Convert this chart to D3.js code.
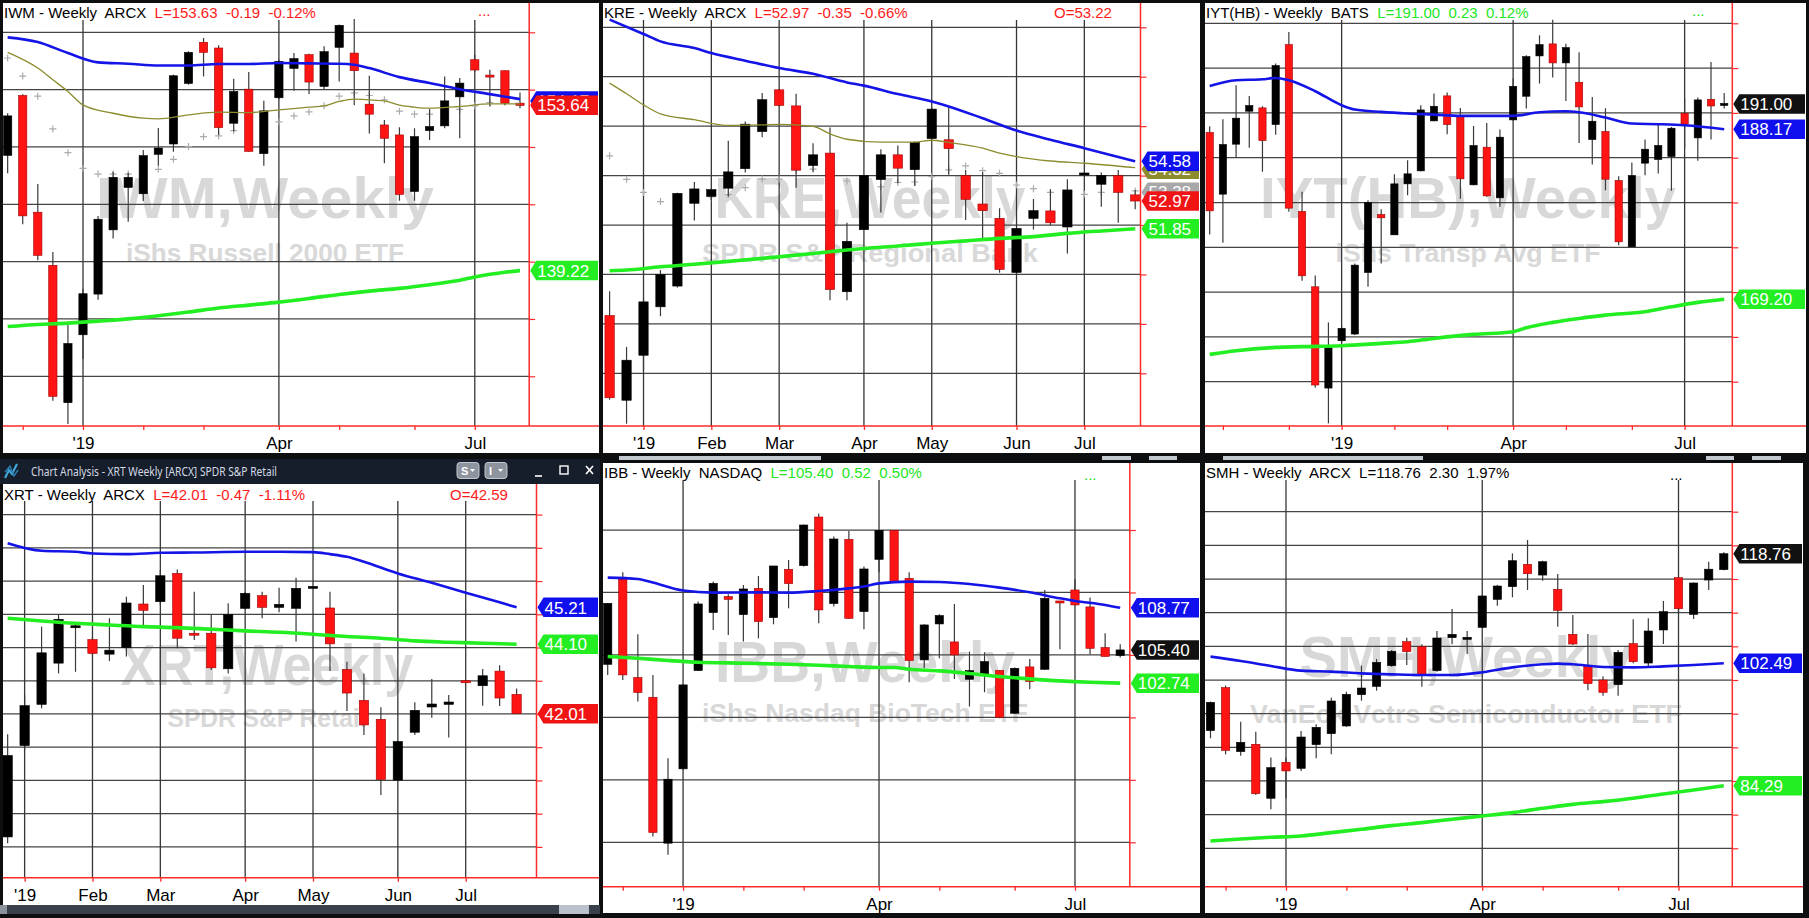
<!DOCTYPE html>
<html><head><meta charset="utf-8">
<script src="https://cdn.jsdelivr.net/npm/d3@7/dist/d3.min.js"></script>
<style>
body{margin:0;background:#0d0e10;}
svg{display:block;font-family:'Liberation Sans',Arial,sans-serif;}
</style></head>
<body><svg id="c" width="1809" height="918"></svg>
<script>
// ---------------- DATA (weekly OHLC: [open, high, low, close]) ----------------
const IWM_OHLC = [[149.27,152.94,147.70,152.71],[154.49,154.60,143.27,143.99],[144.31,146.76,140.12,140.55],[139.68,140.85,127.87,128.25],[127.70,134.72,125.83,132.86],[133.62,137.64,131.52,137.20],[137.17,143.97,136.68,143.70],[142.77,147.84,142.01,147.35],[146.47,147.76,143.47,147.35],[145.92,149.74,145.28,149.24],[149.36,151.66,148.37,149.91],[150.26,156.30,149.59,156.21],[155.54,158.34,155.42,158.25],[159.13,159.50,156.15,158.25],[158.63,158.86,151.05,151.69],[152.07,155.95,151.34,154.84],[155.04,156.53,149.59,149.62],[149.42,154.02,148.37,153.15],[154.29,157.61,154.17,157.46],[156.85,158.19,154.90,157.70],[158.05,158.13,154.61,155.66],[155.28,158.78,154.99,158.31],[158.69,160.67,155.71,160.61],[158.19,161.17,153.64,156.65],[153.73,156.21,151.17,152.86],[151.92,152.36,148.57,150.76],[151.05,151.72,145.31,145.86],[146.12,151.63,145.31,150.90],[151.43,153.32,150.61,151.78],[151.84,156.15,151.63,154.02],[154.37,156.01,150.76,155.57],[157.61,158.05,156.59,156.71],[156.21,156.73,153.53,156.15],[156.65,156.65,153.67,153.82],[153.82,154.75,153.38,153.63]];
const IWM_BLUE = [[0,159.56],[2,159.15],[4,158.19],[6,157.38],[8,157.26],[10,157.11],[12,157.11],[14,157.23],[16,157.23],[18,157.32],[20,157.29],[22,157.26],[23,157.17],[24,156.88],[26,156.09],[28,155.57],[30,155.04],[32,154.61],[34,154.17]];
const IWM_OLIVE = [[0,158.25],[2,156.88],[3,155.86],[4,154.84],[5,153.67],[7,152.94],[9,152.51],[10,152.45],[12,152.80],[14,153.03],[16,153.00],[18,153.24],[20,153.47],[21,153.59],[22,153.97],[23,154.17],[24,154.11],[25,154.02],[26,153.64],[27,153.47],[28,153.38],[30,153.53],[32,153.76],[34,153.76]];
const IWM_GREEN = [[0,134.34],[2,134.52],[4,134.64],[6,134.81],[8,135.01],[10,135.28],[12,135.60],[14,135.95],[16,136.21],[18,136.47],[20,136.79],[22,137.14],[24,137.43],[26,137.67],[28,137.99],[30,138.37],[31,138.66],[33,139.07],[34,139.22]];
const IWM_SAR = [157.76,156.18,154.43,151.57,149.50,148.13,147.64,147.64,147.64,147.76,148.05,148.92,150.03,150.90,150.96,151.43,151.25,151.37,152.19,152.71,153.06,153.59,154.43,154.72,154.49,154.11,153.12,152.86,152.86,153.00,153.27,153.59,153.88,153.91];
const IWM_MONTHS = [[1,''],[5,"'19"],[9,''],[13,''],[18,'Apr'],[22,''],[27,''],[31,'Jul']];

const KRE_OHLC = [[48.34,49.32,44.93,45.01],[44.91,47.07,43.96,46.53],[46.73,49.05,46.12,48.89],[48.69,50.18,48.31,49.99],[49.53,53.31,49.47,53.28],[52.88,53.74,52.18,53.46],[53.16,53.49,53.01,53.43],[53.49,55.41,53.15,54.15],[54.28,56.19,54.12,56.08],[55.78,57.34,55.55,57.07],[57.47,57.50,56.81,56.84],[56.82,57.31,53.51,54.22],[54.41,55.31,54.16,54.84],[54.91,55.95,48.96,49.39],[49.30,52.09,48.96,51.34],[51.81,54.02,51.80,54.00],[53.84,55.07,52.51,54.84],[54.84,55.22,53.69,54.30],[54.24,55.38,53.58,55.34],[55.50,56.73,55.47,56.69],[55.45,56.77,54.03,55.09],[54.00,54.23,52.20,53.04],[52.85,54.14,51.46,52.58],[52.27,52.68,50.07,50.20],[50.08,51.88,50.04,51.86],[52.27,53.05,51.82,52.58],[52.57,53.45,51.99,52.09],[51.92,53.85,50.85,53.42],[54.05,54.11,54.03,54.08],[53.65,54.12,52.74,54.00],[54.00,54.23,52.09,53.32],[53.22,53.42,52.64,52.97]];
const KRE_BLUE = [[0,60.31],[2,59.73],[3,59.43],[5,59.16],[6,58.96],[8,58.65],[10,58.35],[12,58.12],[14,57.77],[15,57.64],[17,57.30],[19,57.00],[20,56.80],[22,56.32],[24,55.82],[26,55.45],[28,55.11],[31,54.58]];
const KRE_OLIVE = [[0,57.74],[1,57.31],[2,56.86],[3,56.50],[5,56.26],[7,56.03],[9,56.05],[10,56.07],[12,55.99],[13,55.69],[14,55.47],[16,55.35],[18,55.35],[19,55.43],[20,55.34],[22,55.11],[23,54.91],[24,54.77],[26,54.59],[28,54.50],[31,54.32]];
const KRE_GREEN = [[0,50.15],[1,50.18],[3,50.31],[5,50.41],[7,50.53],[9,50.65],[11,50.78],[13,50.92],[15,51.05],[17,51.15],[19,51.26],[21,51.36],[23,51.46],[25,51.53],[27,51.66],[29,51.76],[31,51.85]];
const KRE_SAR = [54.80,53.85,53.32,52.95,52.99,53.04,53.14,53.23,53.51,53.86,53.86,54.23,54.26,54.26,53.78,53.50,53.54,53.72,53.74,53.96,54.23,54.39,54.20,54.09,53.62,53.47,53.32,53.22,53.24,53.32,53.45,53.38];
const KRE_MONTHS = [[2,"'19"],[6,'Feb'],[10,'Mar'],[15,'Apr'],[19,'May'],[24,'Jun'],[28,'Jul']];

const IYT_OHLC = [[187.81,188.51,176.43,179.07],[180.93,189.29,175.50,186.47],[186.51,193.09,185.02,189.41],[190.19,191.90,186.10,190.82],[190.56,190.74,183.42,186.91],[188.70,195.50,187.55,195.28],[197.62,199.03,178.96,179.37],[179.00,181.19,171.26,171.82],[170.59,171.86,159.33,159.63],[159.29,166.62,155.35,163.79],[164.57,166.21,164.39,165.95],[165.32,173.20,165.20,173.01],[172.19,180.26,170.59,180.00],[178.66,179.26,173.20,178.29],[176.39,183.16,176.36,182.08],[182.08,184.72,180.82,183.20],[183.53,190.86,183.49,190.33],[189.11,192.16,189.07,190.74],[191.90,192.27,187.62,188.70],[189.63,190.56,180.41,182.64],[181.97,188.55,181.93,186.36],[186.17,188.88,180.63,180.74],[180.52,188.14,179.52,187.29],[189.22,193.83,189.14,192.97],[191.86,196.43,190.48,196.28],[196.36,198.66,193.27,197.62],[197.70,200.41,193.94,195.58],[195.58,197.73,191.34,197.29],[193.42,196.77,186.65,190.67],[187.03,191.78,184.24,189.07],[187.92,190.52,181.38,182.60],[182.45,182.94,175.24,175.61],[175.06,184.46,175.02,183.01],[184.39,187.03,183.05,185.95],[184.80,188.81,183.23,186.36],[185.13,188.44,181.30,188.29],[189.96,191.60,186.02,188.74],[187.21,191.71,184.65,191.45],[191.52,195.69,187.03,190.77],[190.89,192.23,190.48,191.00]];
const IYT_BLUE = [[0,193.01],[2,193.64],[4,193.75],[5,193.90],[6,193.64],[8,192.42],[10,190.86],[11,190.37],[13,190.11],[15,189.93],[17,189.81],[19,189.67],[21,189.67],[23,189.67],[25,190.07],[27,190.19],[28,190.07],[30,189.48],[32,188.81],[34,188.74],[36,188.62],[39,188.17]];
const IYT_GREEN = [[0,163.05],[2,163.46],[5,163.83],[7,163.91],[10,164.02],[13,164.28],[15,164.46],[17,164.83],[20,165.28],[23,165.58],[24,166.02],[26,166.62],[28,167.06],[30,167.43],[33,167.81],[35,168.36],[37,168.85],[39,169.20]];
const IYT_MONTHS = [[1,''],[6,''],[10,"'19"],[14,''],[18,''],[23,'Apr'],[27,''],[32,''],[36,'Jul']];

const XRT_OHLC = [[38.30,41.39,38.11,40.75],[41.05,42.57,40.90,42.25],[42.29,44.63,42.17,43.84],[43.53,44.98,43.22,44.85],[44.60,44.73,43.27,44.65],[44.24,44.33,43.78,43.82],[43.80,44.88,43.59,43.92],[44.00,45.53,43.73,45.34],[45.31,45.88,44.68,45.12],[45.38,46.33,45.28,46.16],[46.23,46.35,43.98,44.28],[44.41,45.68,44.23,44.39],[44.43,44.98,43.32,43.39],[43.36,45.33,43.22,44.99],[45.18,45.68,45.16,45.63],[45.56,45.68,44.88,45.21],[45.21,45.80,45.06,45.30],[45.18,46.10,44.18,45.78],[45.80,45.82,45.80,45.82],[45.19,45.68,43.29,44.11],[43.34,43.57,42.09,42.63],[42.41,43.22,41.37,41.67],[41.84,42.20,39.56,40.03],[40.01,41.19,39.98,41.17],[41.45,42.35,41.37,42.11],[42.21,43.05,41.89,42.30],[42.29,42.57,41.29,42.36],[42.99,43.00,42.93,42.95],[42.85,43.35,42.25,43.15],[43.29,43.47,42.24,42.48],[42.59,42.77,42.00,42.01]];
const XRT_BLUE = [[0,47.14],[2,46.91],[4,46.88],[5,46.83],[7,46.81],[9,46.85],[11,46.86],[14,46.88],[16,46.88],[18,46.87],[19,46.81],[20,46.73],[21,46.58],[23,46.23],[25,45.95],[27,45.65],[29,45.36],[30,45.21]];
const XRT_GREEN = [[0,44.88],[2,44.80],[4,44.73],[6,44.68],[8,44.63],[10,44.60],[12,44.55],[14,44.50],[16,44.46],[18,44.40],[20,44.33],[22,44.28],[24,44.20],[26,44.16],[28,44.13],[30,44.10]];
const XRT_MONTHS = [[1,"'19"],[5,'Feb'],[9,'Mar'],[14,'Apr'],[18,'May'],[23,'Jun'],[27,'Jul']];

const IBB_OHLC = [[104.25,109.13,103.40,109.13],[111.08,111.61,103.00,103.40],[103.19,106.65,101.27,101.99],[101.61,103.40,90.47,90.79],[89.93,96.73,89.00,95.05],[95.88,102.65,95.80,102.60],[103.75,109.27,103.72,109.08],[108.39,110.87,107.00,110.73],[109.67,109.85,106.60,109.45],[108.23,110.60,106.07,110.28],[110.33,111.32,106.33,107.67],[107.99,112.12,107.45,112.12],[111.85,112.60,108.73,110.71],[112.15,115.45,112.07,115.40],[116.04,116.33,107.53,108.60],[109.11,114.47,108.87,114.28],[114.25,114.92,107.88,107.93],[108.47,112.07,107.05,111.88],[112.65,115.00,111.61,114.97],[114.97,115.00,110.81,110.87],[111.13,111.61,102.81,104.55],[104.60,107.45,103.93,107.40],[107.48,108.25,104.73,108.15],[106.04,109.08,103.08,105.00],[103.05,105.27,100.87,103.75],[103.45,105.21,102.01,104.47],[103.75,103.80,99.93,100.01],[100.33,103.99,100.28,103.93],[104.04,104.68,102.25,102.87],[103.85,110.20,103.80,109.53],[109.27,109.32,105.45,109.21],[110.20,111.05,108.95,109.00],[108.84,109.59,105.05,105.53],[105.59,106.73,104.87,104.88],[104.95,105.85,104.79,105.40]];
const IBB_BLUE = [[0,111.19],[2,111.08],[3,110.79],[5,110.15],[7,109.99],[10,110.01],[12,109.99],[14,110.12],[16,110.33],[17,110.47],[18,110.73],[20,110.87],[22,110.84],[24,110.68],[26,110.39],[28,110.01],[30,109.53],[31,109.32],[33,109.00],[34,108.77]];
const IBB_GREEN = [[0,104.87],[2,104.73],[4,104.55],[6,104.41],[8,104.36],[10,104.31],[12,104.25],[14,104.17],[16,104.07],[18,103.99],[19,103.99],[20,103.85],[22,103.72],[24,103.51],[26,103.27],[28,103.08],[30,102.92],[32,102.81],[34,102.74]];
const IBB_MONTHS = [[1,''],[5,"'19"],[9,''],[13,''],[18,'Apr'],[22,''],[27,''],[31,'Jul']];

const SMH_OHLC = [[92.48,96.78,91.34,96.68],[98.86,99.16,88.96,89.55],[89.36,93.81,88.76,90.74],[90.45,92.33,82.92,83.12],[82.43,88.47,80.79,86.98],[87.77,88.47,82.43,86.49],[86.88,92.43,86.49,91.53],[90.40,93.42,88.37,92.97],[92.03,97.38,88.96,96.88],[93.17,98.27,93.07,97.87],[97.82,102.13,96.93,98.81],[99.06,103.12,98.42,102.62],[102.13,104.46,101.98,104.26],[105.69,106.29,102.23,104.21],[104.95,105.30,99.01,100.84],[101.39,107.28,101.24,106.24],[106.29,110.54,105.30,106.78],[106.04,107.28,103.86,106.34],[107.82,112.62,107.77,112.48],[111.98,114.11,111.04,113.96],[113.86,118.81,112.28,117.72],[117.18,120.79,113.37,115.79],[115.59,117.72,114.75,117.57],[113.47,115.74,107.92,110.35],[106.78,109.65,105.20,105.35],[102.08,106.83,98.47,99.46],[100.00,100.54,97.67,98.17],[99.31,104.46,97.67,104.11],[105.40,109.01,102.48,102.72],[102.52,109.16,101.98,107.28],[107.43,111.73,105.35,110.15],[115.20,115.35,110.15,110.59],[109.75,114.50,109.06,114.41],[114.85,117.57,113.37,116.46],[116.39,118.96,116.29,118.76]];
const SMH_BLUE = [[0,103.47],[2,102.82],[4,102.08],[6,101.39],[8,101.24],[10,100.99],[12,100.84],[14,100.74],[16,100.74],[18,101.14],[20,101.88],[22,102.33],[23,102.43],[24,102.33],[26,101.93],[28,101.88],[30,102.03],[32,102.23],[34,102.49]];
const SMH_GREEN = [[0,76.09],[2,76.39],[4,76.63],[6,76.83],[8,77.33],[10,77.82],[12,78.37],[14,78.81],[16,79.31],[18,79.80],[20,80.30],[22,80.94],[24,81.53],[26,81.93],[28,82.43],[30,83.07],[32,83.66],[34,84.29]];
const SMH_MONTHS = [[1,''],[5,"'19"],[9,''],[13,''],[18,'Apr'],[22,''],[27,''],[31,'Jul']];

// header texts [text, colour-key]
const IWM_HEADER = [['IWM - Weekly  ARCX  ','k'],['L=153.63  -0.19  -0.12%','r']];
const KRE_HEADER = [['KRE - Weekly  ARCX  ','k'],['L=52.97  -0.35  -0.66%','r']];
const IYT_HEADER = [['IYT(HB) - Weekly  BATS  ','k'],['L=191.00  0.23  0.12%','g']];
const XRT_HEADER = [['XRT - Weekly  ARCX  ','k'],['L=42.01  -0.47  -1.11%','r']];
const IBB_HEADER = [['IBB - Weekly  NASDAQ  ','k'],['L=105.40  0.52  0.50%','g']];
const SMH_HEADER = [['SMH - Weekly  ARCX  L=118.76  2.30  1.97%','k']];
// right-hand value labels [text, value, colour-key] in drawing order
const IWM_LABELS = [['154.17',154.0,'b'],['153.64',153.64,'r'],['139.22',139.22,'g']];
const KRE_LABELS = [['54.32',54.26,'o'],['53.38',53.33,'s'],['54.58',54.58,'b'],['52.97',52.97,'r'],['51.85',51.85,'g']];
const IYT_LABELS = [['191.00',191.00,'k'],['188.17',188.17,'b'],['169.20',169.20,'g']];
const XRT_LABELS = [['45.21',45.21,'b'],['44.10',44.10,'g'],['42.01',42.01,'r']];
const IBB_LABELS = [['108.77',108.77,'b'],['105.40',105.40,'k'],['102.74',102.74,'g']];
const SMH_LABELS = [['118.76',118.76,'k'],['102.49',102.49,'b'],['84.29',84.29,'g']];
const WATERMARKS = {IWM:['IWM,Weekly','iShs Russell 2000 ETF'],KRE:['KRE,Weekly','SPDR S&P Regional Bank'],IYT:['IYT(HB),Weekly','iShs Transp Avg ETF'],XRT:['XRT,Weekly','SPDR S&P Retail'],IBB:['IBB,Weekly','iShs Nasdaq BioTech ETF'],SMH:['SMH,Weekly','VanEck Vctrs Semiconductor ETF']};

// ---------------- STYLE ----------------
const COL = {k:'#000000', r:'#ff1a1a', g:'#22e622', b:'#1414e6', o:'#8c8c2e', s:'#a8a8a8'};
const LABELCOL = {k:'#111111', r:'#f01414', g:'#22ee22', b:'#1010ee', o:'#8c8c2e', s:'#a8a8a8'};

// ---------------- LAYOUT ----------------
const panels = [
 {key:'IWM', ohlc:IWM_OHLC, blue:IWM_BLUE, olive:IWM_OLIVE, green:IWM_GREEN, sar:IWM_SAR, months:IWM_MONTHS, header:IWM_HEADER, labels:IWM_LABELS,
  L:{bx:3,by:3,bw:596,bh:450,right:529.2,axisY:426,x0:7.65,x1:520.0,pd:[130,160],yr:[376.3,32.3],gs:5,vTop:20,hdrY:17.7,wm:[265,218,338,261.7,278],extra:[['...',478,16,'r']]}},
 {key:'KRE', ohlc:KRE_OHLC, blue:KRE_BLUE, olive:KRE_OLIVE, green:KRE_GREEN, sar:KRE_SAR, months:KRE_MONTHS, header:KRE_HEADER, labels:KRE_LABELS,
  L:{bx:603,by:3,bw:597,bh:450,right:1140.5,axisY:426,x0:609.6,x1:1135.2,pd:[46,60],yr:[373.3,27.3],gs:2,vTop:20,hdrY:17.7,wm:[870,218,311,261.7,336],extra:[['O=53.22',1054,17.7,'r']]}},
 {key:'IYT', ohlc:IYT_OHLC, blue:IYT_BLUE, green:IYT_GREEN, months:IYT_MONTHS, header:IYT_HEADER, labels:IYT_LABELS,
  L:{bx:1205,by:3,bw:601,bh:450,right:1732.3,axisY:426,x0:1209.7,x1:1724.2,pd:[160,200],yr:[381.7,23.3],gs:5,vTop:20,hdrY:17.7,wm:[1468,218,416,261.7,265],extra:[['...',1692,16,'g']]}},
 {key:'XRT', ohlc:XRT_OHLC, blue:XRT_BLUE, green:XRT_GREEN, months:XRT_MONTHS, header:XRT_HEADER, labels:XRT_LABELS,
  L:{bx:3,by:484,bw:596,bh:421,right:536.5,axisY:877.7,x0:7.65,x1:516.6,pd:[38,48],yr:[846.9,514.6],gs:1,vTop:501,hdrY:499.5,wm:[267,685,293,726.7,199],extra:[['O=42.59',450,499.5,'r']]}},
 {key:'IBB', ohlc:IBB_OHLC, blue:IBB_BLUE, green:IBB_GREEN, months:IBB_MONTHS, header:IBB_HEADER, labels:IBB_LABELS,
  L:{bx:603,by:463,bw:597,bh:450,right:1129.8,axisY:886.7,x0:607.7,x1:1120.2,pd:[90,115],yr:[842.3,530],gs:5,vTop:480,hdrY:478,wm:[865,681.7,300,721.7,326],extra:[['...',1084,480,'g']]}},
 {key:'SMH', ohlc:SMH_OHLC, blue:SMH_BLUE, green:SMH_GREEN, months:SMH_MONTHS, header:SMH_HEADER, labels:SMH_LABELS,
  L:{bx:1205,by:463,bw:598,bh:450,right:1732.3,axisY:886.7,x0:1210.5,x1:1723.8,pd:[75,125],yr:[848.3,511.7],gs:5,vTop:480,hdrY:478,wm:[1466,676.7,333,723.3,432],extra:[['...',1670,480,'k']]}}
];

const svg = d3.select('#c');
svg.append('rect').attr('width',1809).attr('height',918).attr('fill','#0d0e10');
const defs = svg.append('defs');

function drawPanel(P){
  const L = P.L, n = P.ohlc.length;
  const g = svg.append('g');
  g.append('rect').attr('x',L.bx).attr('y',L.by).attr('width',L.bw).attr('height',L.bh).attr('fill','#ffffff');
  const x = d3.scaleLinear().domain([0,n-1]).range([L.x0,L.x1]);
  const y = d3.scaleLinear().domain(L.pd).range(L.yr);
  const step = (L.x1-L.x0)/(n-1);
  const cid = 'clip'+P.key;
  defs.append('clipPath').attr('id',cid).append('rect')
    .attr('x',L.bx).attr('y',L.by).attr('width',L.right-L.bx).attr('height',L.axisY-L.by);

  // watermark
  const wm = WATERMARKS[P.key];
  g.append('text').attr('x',L.wm[0]).attr('y',L.wm[1]).attr('text-anchor','middle')
    .attr('font-size',58).attr('font-weight','bold').attr('fill','#d8d8d8')
    .attr('textLength',L.wm[2]).attr('lengthAdjust','spacingAndGlyphs').text(wm[0]);
  g.append('text').attr('x',L.wm[0]).attr('y',L.wm[3]).attr('text-anchor','middle')
    .attr('font-size',26).attr('font-weight','bold').attr('fill','#d8d8d8')
    .attr('textLength',L.wm[4]).attr('lengthAdjust','spacingAndGlyphs').text(wm[1]);

  // horizontal gridlines
  const grid = d3.range(L.pd[0], L.pd[1]+1e-6, L.gs);
  g.append('g').selectAll('line').data(grid).join('line')
    .attr('x1',L.bx).attr('x2',L.right).attr('y1',d=>y(d)).attr('y2',d=>y(d))
    .attr('stroke','#444444').attr('stroke-width',1.25);
  // vertical month lines
  g.append('g').selectAll('line').data(P.months.filter(m=>m[1]!=='')).join('line')
    .attr('x1',d=>x(d[0])).attr('x2',d=>x(d[0])).attr('y1',L.vTop).attr('y2',L.axisY)
    .attr('stroke','#363636').attr('stroke-width',1.3);

  const cg = g.append('g').attr('clip-path',`url(#${cid})`);
  // SAR-like crosses
  if(P.sar){
    const sg = cg.append('g').attr('stroke','#ababab').attr('stroke-width',1.2);
    sg.selectAll('line.h').data(P.sar).join('line').attr('class','h')
      .attr('x1',(d,i)=>x(i)-3.5).attr('x2',(d,i)=>x(i)+3.5).attr('y1',d=>y(d)).attr('y2',d=>y(d));
    sg.selectAll('line.v').data(P.sar).join('line').attr('class','v')
      .attr('x1',(d,i)=>x(i)).attr('x2',(d,i)=>x(i)).attr('y1',d=>y(d)-3.5).attr('y2',d=>y(d)+3.5);
  }
  // candles
  const bw = step*0.55;
  cg.append('g').selectAll('line').data(P.ohlc).join('line')
    .attr('x1',(d,i)=>x(i)).attr('x2',(d,i)=>x(i)).attr('y1',d=>y(d[1])).attr('y2',d=>y(d[2]))
    .attr('stroke','#3a3a3a').attr('stroke-width',1.2);
  cg.append('g').selectAll('rect').data(P.ohlc).join('rect')
    .attr('x',(d,i)=>x(i)-bw/2).attr('width',bw)
    .attr('y',d=>{const t=y(Math.max(d[0],d[3])), h=Math.abs(y(d[0])-y(d[3])); return h<2? t-(2-h)/2 : t;})
    .attr('height',d=>Math.max(2,Math.abs(y(d[0])-y(d[3]))))
    .attr('fill',d=>d[3]<d[0]?'#ff1414':'#000')
    .attr('stroke',d=>d[3]<d[0]?'#a00000':'#000').attr('stroke-width',0.6);

  // moving averages
  const line = d3.line().x(d=>x(d[0])).y(d=>y(d[1])).curve(d3.curveMonotoneX);
  cg.append('path').datum(P.green).attr('d',line).attr('fill','none').attr('stroke','#22ee22').attr('stroke-width',3.6);
  cg.append('path').datum(P.blue).attr('d',line).attr('fill','none').attr('stroke','#1414e6').attr('stroke-width',2.6);
  if(P.olive) cg.append('path').datum(P.olive).attr('d',line).attr('fill','none').attr('stroke','#8c8c2e').attr('stroke-width',1.3);

  // red axis lines
  g.append('line').attr('x1',L.right).attr('x2',L.right).attr('y1',L.by).attr('y2',L.axisY)
    .attr('stroke','#ff2a2a').attr('stroke-width',1.5);
  g.append('line').attr('x1',L.bx).attr('x2',L.bx+L.bw).attr('y1',L.axisY).attr('y2',L.axisY)
    .attr('stroke','#ff2a2a').attr('stroke-width',1.5);
  // right ticks
  const ra = g.append('g').attr('transform',`translate(${L.right},0)`)
    .call(d3.axisRight(y).tickValues(grid).tickSize(6).tickFormat(''));
  ra.select('.domain').remove();
  ra.selectAll('line').attr('stroke','#ff2a2a').attr('stroke-width',1.2);
  // bottom axis
  const ba = g.append('g').attr('transform',`translate(0,${L.axisY})`)
    .call(d3.axisBottom(x).tickValues(P.months.map(m=>m[0])).tickSize(4).tickPadding(7)
      .tickFormat(v=>{const m=P.months.find(mm=>mm[0]===v); return m?m[1]:'';}));
  ba.select('.domain').remove();
  ba.selectAll('line').attr('stroke','#ff2a2a').attr('stroke-width',1.3);
  ba.selectAll('text').attr('font-size',17).attr('fill','#000').attr('font-family',"'Liberation Sans',Arial,sans-serif");

  // value labels
  const lab = g.append('g');
  P.labels.forEach(l=>{
    const yc = y(l[1]), x0 = L.right+1, x1 = L.bx+L.bw-1, h = 19.5;
    lab.append('path').attr('d',`M${x0},${yc} L${x0+6},${yc-h/2} H${x1} V${yc+h/2} H${x0+6} Z`)
      .attr('fill',LABELCOL[l[2]]);
    lab.append('text').attr('x',x0+7).attr('y',yc+6.2).attr('font-size',17).attr('fill','#fff').text(l[0]);
  });

  // header
  const ht = g.append('text').attr('x',L.bx+1).attr('y',L.hdrY).attr('font-size',15).style('white-space','pre');
  P.header.forEach(h=>ht.append('tspan').attr('fill',COL[h[1]]).text(h[0]));
  L.extra.forEach(e=>g.append('text').attr('x',e[1]).attr('y',e[2]).attr('font-size',15)
     .attr('fill',COL[e[3]]).text(e[0]));
}
panels.forEach(drawPanel);

// ---------- window chrome ----------
const tb = svg.append('g');
tb.append('rect').attr('x',0).attr('y',459).attr('width',600).attr('height',25).attr('fill','#161d2b');
tb.append('path').attr('d','M5,478 L9,470 L12,474 L17,464').attr('fill','none').attr('stroke','#3fa6d8').attr('stroke-width',2.2);
tb.append('path').attr('d','M5,472 L10,466 L14,476 L18,470').attr('fill','none').attr('stroke','#2b7fb0').attr('stroke-width',1.4);
tb.append('text').attr('x',31).attr('y',475.5).attr('font-size',12).attr('font-family',"'Noto Sans',sans-serif")
  .attr('fill','#d3dae4').attr('textLength',246).attr('lengthAdjust','spacingAndGlyphs')
  .text('Chart Analysis - XRT Weekly [ARCX] SPDR S&P Retail');
[[457,'S'],[485,'I']].forEach(b=>{
  tb.append('rect').attr('x',b[0]).attr('y',462.5).attr('width',22).attr('height',16).attr('rx',3)
    .attr('fill','#8d949d').attr('stroke','#c2c8cf').attr('stroke-width',1);
  tb.append('text').attr('x',b[0]+4).attr('y',475).attr('font-size',11).attr('font-weight','bold').attr('fill','#fff').text(b[1]);
  tb.append('path').attr('d',`M${b[0]+13},469 h5 l-2.5,3 z`).attr('fill','#fff');
});
tb.append('line').attr('x1',535).attr('x2',542).attr('y1',476).attr('y2',476).attr('stroke','#fff').attr('stroke-width',1.6);
tb.append('rect').attr('x',560).attr('y',466).attr('width',8).attr('height',8).attr('fill','none').attr('stroke','#fff').attr('stroke-width',1.4);
tb.append('path').attr('d','M586,466 l7,8 M593,466 l-7,8').attr('stroke','#fff').attr('stroke-width',1.6);
// XRT bottom scrollbar
svg.append('rect').attr('x',0).attr('y',905).attr('width',600).attr('height',9).attr('fill','#3b414b');
svg.append('rect').attr('x',0).attr('y',905).attr('width',7).attr('height',9).attr('fill','#8a929c');
svg.append('rect').attr('x',559).attr('y',905).attr('width',30).attr('height',9).attr('fill','#b9c1cc');
// scroll strips above IBB and SMH
[[619,202],[1102,29],[1149,28],[1223,200],[1706,28],[1752,29]].forEach(s=>
  svg.append('rect').attr('x',s[0]).attr('y',456).attr('width',s[1]).attr('height',4).attr('fill','#c3c9d1'));
</script>
</body></html>
